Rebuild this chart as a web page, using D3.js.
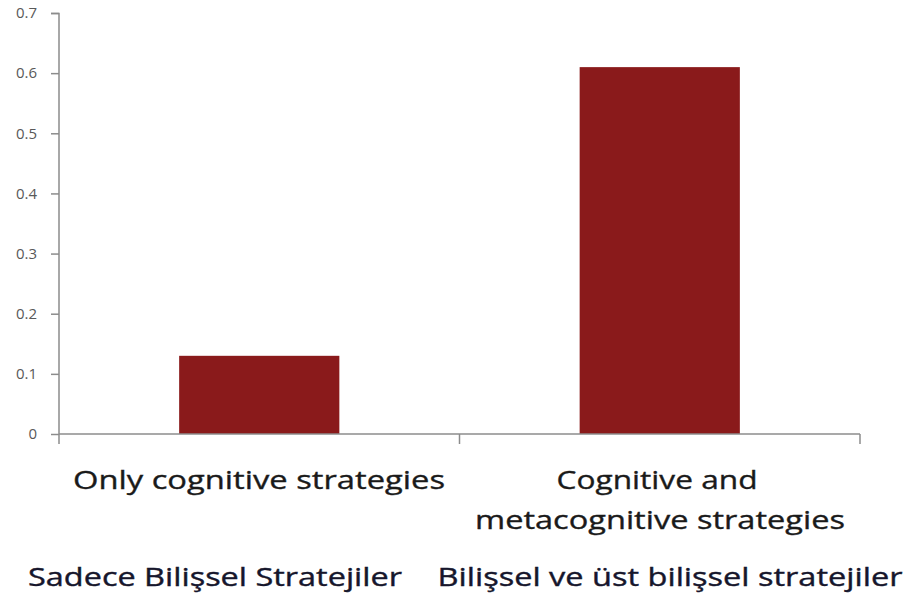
<!DOCTYPE html>
<html>
<head>
<meta charset="utf-8">
<script src="https://cdn.jsdelivr.net/npm/d3@7"></script>
<style>
  body { margin: 0; background: #fff; }
  svg { display: block; }
</style>
</head>
<body>
<svg id="chart" width="905" height="598"></svg>
<script>
// chart data
const categories = ['Only cognitive strategies', 'Cognitive and metacognitive strategies'];
const categoryLines = [['Only cognitive strategies'], ['Cognitive and', 'metacognitive strategies']];
const turkishLabels = ['Sadece Bilişsel Stratejiler', 'Bilişsel ve üst bilişsel stratejiler'];
const values = [0.13, 0.61];
const yTicks = [0, 0.1, 0.2, 0.3, 0.4, 0.5, 0.6, 0.7];

const svg = d3.select('#chart');
const margin = { left: 59, right: 45, top: 13, bottom: 164 };
const width = 905, height = 598;

const x = d3.scaleBand()
    .domain(categories)
    .range([margin.left, width - margin.right])
    .paddingInner(0.6)
    .paddingOuter(0.3);

const y = d3.scaleLinear()
    .domain([0, 0.7])
    .range([height - margin.bottom, margin.top]);

const axisColor = '#8c8c8c';

// bars
svg.selectAll('rect.bar')
    .data(values)
    .join('rect')
    .attr('class', 'bar')
    .attr('x', (d, i) => x(categories[i]))
    .attr('y', d => y(d))
    .attr('width', x.bandwidth())
    .attr('height', d => y(0) - y(d))
    .attr('fill', '#8a1a1b');

// y axis
const yAxis = svg.append('g')
    .attr('transform', `translate(${margin.left},0)`)
    .call(d3.axisLeft(y).tickValues(yTicks).tickSize(8).tickPadding(14)
        .tickFormat(d => d === 0 ? '0' : d3.format('.1f')(d)));
yAxis.select('.domain').attr('stroke', axisColor).attr('stroke-width', 1.5)
    .attr('d', `M-8,${y(0.7) + 0.5}H0V${y(0)}`);
yAxis.selectAll('.tick line').attr('stroke', axisColor).attr('stroke-width', 1.5);
yAxis.selectAll('.tick text')
    .attr('fill', '#595959')
    .style('font-family', '"Open Sans", sans-serif')
    .style('font-size', '15px');

// x axis with category separators
const x0 = margin.left, x1 = width - margin.right;
const xAxis = svg.append('g').attr('transform', `translate(0,${y(0)})`);
xAxis.append('line')
    .attr('x1', x0).attr('x2', x1)
    .attr('stroke', axisColor).attr('stroke-width', 1.5);
const step = (x1 - x0) / categories.length;
xAxis.selectAll('line.sep')
    .data(d3.range(categories.length + 1))
    .join('line')
    .attr('class', 'sep')
    .attr('x1', i => x0 + i * step).attr('x2', i => x0 + i * step)
    .attr('y1', 0).attr('y2', 10)
    .attr('stroke', axisColor).attr('stroke-width', 1.5);

// the original used a wide Calibri rendering; stretch text to the same widths
const labelFont = '"Open Sans", sans-serif';
const lineWidths = [[372], [201, 370]];
const lineCenters = [[259], [657, 660]];

categoryLines.forEach((lines, i) => {
    lines.forEach((line, j) => {
        svg.append('text')
            .attr('x', lineCenters[i][j])
            .attr('y', 489 + j * 40)
            .attr('text-anchor', 'middle')
            .attr('fill', '#1a1a1a')
            .attr('stroke', '#1a1a1a')
            .attr('stroke-width', 0.35)
            .attr('textLength', lineWidths[i][j])
            .attr('lengthAdjust', 'spacingAndGlyphs')
            .style('font-family', labelFont)
            .style('font-size', '25px')
            .text(line);
    });
});

// turkish labels
const turkishX = [215, 670];
const turkishW = [374, 465];
turkishLabels.forEach((lbl, i) => {
    svg.append('text')
        .attr('x', turkishX[i])
        .attr('y', 586)
        .attr('text-anchor', 'middle')
        .attr('fill', '#16162c')
        .attr('stroke', '#16162c')
        .attr('stroke-width', 0.4)
        .attr('textLength', turkishW[i])
        .attr('lengthAdjust', 'spacingAndGlyphs')
        .style('font-family', labelFont)
        .style('font-size', '26px')
        .text(lbl);
});
</script>
</body>
</html>
